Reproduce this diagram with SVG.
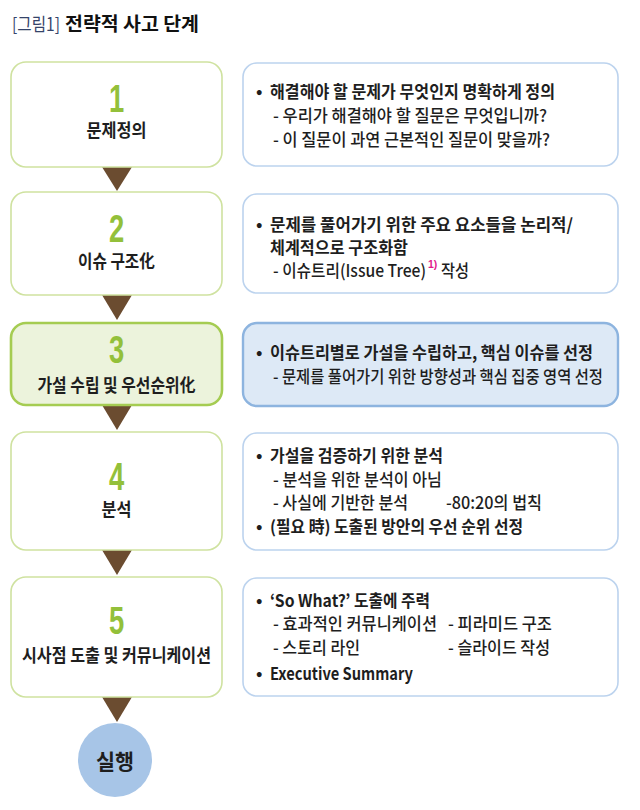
<svg xmlns="http://www.w3.org/2000/svg" width="640" height="810" viewBox="0 0 640 810">
<style>
.lbox{fill:#ffffff;stroke:#cfe2a0;stroke-width:1.6}
.lbox.hl{fill:#ecf3dc;stroke:#a5cc52;stroke-width:2.6}
.rbox{fill:#ffffff;stroke:#bcd3ee;stroke-width:1.6}
.rbox.hl{fill:#dde9f6;stroke:#8db4df;stroke-width:2.4}
.num{font-family:"Liberation Sans",Arial,sans-serif;font-weight:700;font-size:38px;fill:#93c03a;text-anchor:middle}
.lab{font-family:"Noto Sans CJK KR","Noto Sans",sans-serif;font-weight:700;font-size:18px;fill:#1e1e1e;text-anchor:middle}
.t{font-family:"Noto Sans CJK KR","Noto Sans",sans-serif;font-size:17px;fill:#1e1e1e}
.b{font-weight:700}
.m{font-weight:500}
.arrow{fill:#6b4c30}
</style>

<g id="title">
<text x="12" y="31" style="font-family:'Noto Sans CJK KR',sans-serif;font-size:18px;font-weight:400;fill:#34436a" textLength="48" lengthAdjust="spacingAndGlyphs">[그림1]</text>
<text x="65" y="31" style="font-family:'Noto Sans CJK KR',sans-serif;font-size:19px;font-weight:700;fill:#111" textLength="134" lengthAdjust="spacingAndGlyphs">전략적 사고 단계</text>
</g>

<g id="connectors">
<polygon class="arrow" points="102,167 132,167 117,191"/>
<polygon class="arrow" points="102,295 132,295 117,320"/>
<polygon class="arrow" points="102,405 132,405 117,430"/>
<polygon class="arrow" points="102,550 132,550 117,575"/>
<polygon class="arrow" points="102,697 132,697 117,722"/>
</g>

<g id="step1">
<rect class="lbox" x="11" y="62" width="211" height="105" rx="15"/>
<text class="num" transform="translate(116.5,112) scale(0.72,1)">1</text>
<text class="lab" x="116.5" y="137" textLength="60" lengthAdjust="spacingAndGlyphs">문제정의</text>
</g>

<g id="step2">
<rect class="lbox" x="11" y="192" width="211" height="103" rx="15"/>
<text class="num" transform="translate(116.5,242) scale(0.72,1)">2</text>
<text class="lab" x="116.5" y="268" textLength="77" lengthAdjust="spacingAndGlyphs">이슈 구조化</text>
</g>

<g id="step3">
<rect class="lbox hl" x="11" y="323" width="211" height="82" rx="15"/>
<text class="num" transform="translate(116.5,363) scale(0.72,1)">3</text>
<text class="lab" x="116.5" y="392" textLength="158" lengthAdjust="spacingAndGlyphs">가설 수립 및 우선순위化</text>
</g>

<g id="step4">
<rect class="lbox" x="11" y="432" width="211" height="118" rx="15"/>
<text class="num" transform="translate(116.5,490) scale(0.72,1)">4</text>
<text class="lab" x="116.5" y="516" textLength="30" lengthAdjust="spacingAndGlyphs">분석</text>
</g>

<g id="step5">
<rect class="lbox" x="11" y="577" width="211" height="120" rx="15"/>
<text class="num" transform="translate(116.5,634) scale(0.72,1)">5</text>
<text class="lab" x="116.5" y="662" textLength="189" lengthAdjust="spacingAndGlyphs">시사점 도출 및 커뮤니케이션</text>
</g>

<g id="execute">
<ellipse cx="115" cy="760" rx="37" ry="37" fill="#a7c5e7"/>
<text class="lab" x="115" y="769" style="font-size:21px" textLength="38" lengthAdjust="spacingAndGlyphs">실행</text>
</g>

<g id="desc1">
<rect class="rbox" x="243" y="63" width="375" height="103" rx="14"/>
<text class="t b" x="256" y="98">•</text>
<text class="t b" x="270" y="98" textLength="285" lengthAdjust="spacingAndGlyphs">해결해야 할 문제가 무엇인지 명확하게 정의</text>
<text class="t m" x="273" y="122" textLength="274" lengthAdjust="spacingAndGlyphs">- 우리가 해결해야 할 질문은 무엇입니까?</text>
<text class="t m" x="273" y="146" textLength="277" lengthAdjust="spacingAndGlyphs">- 이 질문이 과연 근본적인 질문이 맞을까?</text>
</g>

<g id="desc2">
<rect class="rbox" x="243" y="194" width="375" height="99" rx="14"/>
<text class="t b" x="256" y="231">•</text>
<text class="t b" x="270" y="231" textLength="303" lengthAdjust="spacingAndGlyphs">문제를 풀어가기 위한 주요 요소들을 논리적/</text>
<text class="t b" x="270" y="254" textLength="138" lengthAdjust="spacingAndGlyphs">체계적으로 구조화함</text>
<text class="t m" x="273" y="277" textLength="153" lengthAdjust="spacingAndGlyphs">- 이슈트리(Issue Tree)</text>
<text x="428" y="268" style="font-family:'Liberation Sans',sans-serif;font-size:10.5px;font-weight:700;fill:#e2188c">1)</text>
<text class="t m" x="441" y="277" textLength="28" lengthAdjust="spacingAndGlyphs">작성</text>
</g>

<g id="desc3">
<rect class="rbox hl" x="243" y="323" width="375" height="83" rx="14"/>
<text class="t b" x="256" y="359">•</text>
<text class="t b" x="270" y="359" textLength="323" lengthAdjust="spacingAndGlyphs">이슈트리별로 가설을 수립하고, 핵심 이슈를 선정</text>
<text class="t m" x="273" y="383" textLength="330" lengthAdjust="spacingAndGlyphs">- 문제를 풀어가기 위한 방향성과 핵심 집중 영역 선정</text>
</g>

<g id="desc4">
<rect class="rbox" x="243" y="433" width="375" height="117" rx="14"/>
<text class="t b" x="256" y="462">•</text>
<text class="t b" x="270" y="462" textLength="173" lengthAdjust="spacingAndGlyphs">가설을 검증하기 위한 분석</text>
<text class="t m" x="273" y="486" textLength="169" lengthAdjust="spacingAndGlyphs">- 분석을 위한 분석이 아님</text>
<text class="t m" x="273" y="509" textLength="135" lengthAdjust="spacingAndGlyphs">- 사실에 기반한 분석</text>
<text class="t m" x="446" y="509" textLength="96" lengthAdjust="spacingAndGlyphs">-80:20의 법칙</text>
<text class="t b" x="256" y="533">•</text>
<text class="t b" x="270" y="533" textLength="253" lengthAdjust="spacingAndGlyphs">(필요 時) 도출된 방안의 우선 순위 선정</text>
</g>

<g id="desc5">
<rect class="rbox" x="243" y="578" width="375" height="118" rx="14"/>
<text class="t b" x="256" y="607">•</text>
<text class="t b" x="270" y="607" textLength="160" lengthAdjust="spacingAndGlyphs">‘So What?’ 도출에 주력</text>
<text class="t m" x="273" y="630" textLength="164" lengthAdjust="spacingAndGlyphs">- 효과적인 커뮤니케이션</text>
<text class="t m" x="448" y="630" textLength="104" lengthAdjust="spacingAndGlyphs">- 피라미드 구조</text>
<text class="t m" x="273" y="654" textLength="87" lengthAdjust="spacingAndGlyphs">- 스토리 라인</text>
<text class="t m" x="448" y="654" textLength="102" lengthAdjust="spacingAndGlyphs">- 슬라이드 작성</text>
<text class="t b" x="256" y="680">•</text>
<text class="t b" x="270" y="680" textLength="143" lengthAdjust="spacingAndGlyphs">Executive Summary</text>
</g>
</svg>
